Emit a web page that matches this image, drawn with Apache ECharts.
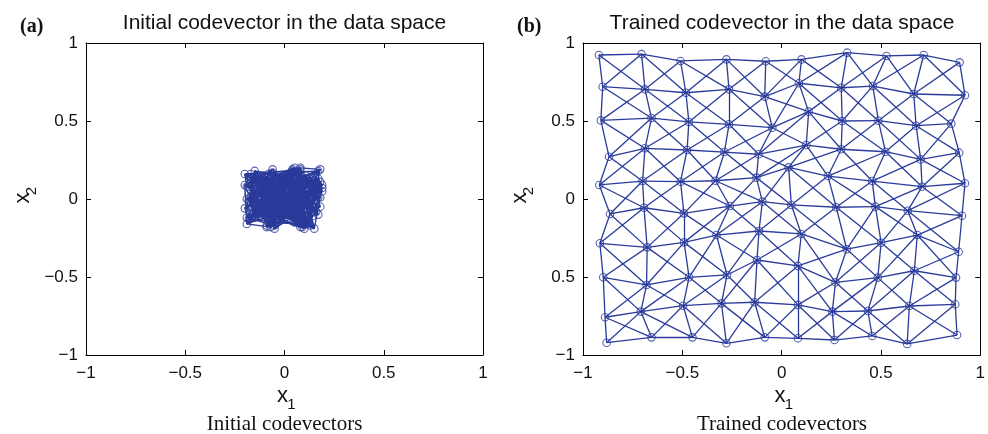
<!DOCTYPE html>
<html><head><meta charset="utf-8">
<script src="https://cdn.jsdelivr.net/npm/echarts@6/dist/echarts.min.js"></script>
<style>html,body{margin:0;padding:0;background:#fff}#c{width:988px;height:434px}</style>
</head><body><div id="c"></div>
<script>
// Tick labels as printed on each panel's y axis (panel b prints "0.5" at -0.5)
var yTickLabelsA = {'-1': '\u22121', '-0.5': '\u22120.5', '0': '0', '0.5': '0.5', '1': '1'};
var yTickLabelsB = {'-1': '\u22121', '-0.5': '0.5', '0': '0', '0.5': '0.5', '1': '1'};
// Initial codevectors (10x10 lattice, row-major), read approximately from the blob
var initX = [
 -0.13, 0.05, -0.18, 0.17, -0.02, 0.11, -0.09, 0.19, -0.15, 0.08,
 0.14, -0.20, 0.03, -0.07, 0.18, -0.12, 0.09, -0.04, 0.16, -0.17,
 -0.06, 0.12, -0.19, 0.01, -0.11, 0.15, -0.01, 0.07, -0.16, 0.18,
 0.10, -0.14, 0.17, -0.08, 0.04, -0.19, 0.13, -0.03, 0.06, -0.10,
 -0.17, 0.02, -0.05, 0.19, -0.13, 0.08, -0.18, 0.15, -0.09, 0.11,
 0.06, -0.10, 0.14, -0.16, 0.09, -0.02, 0.18, -0.20, 0.03, -0.07,
 -0.19, 0.16, -0.08, 0.12, -0.15, 0.05, -0.11, 0.10, -0.04, 0.17,
 0.13, -0.05, 0.19, -0.18, 0.00, -0.12, 0.07, -0.14, 0.16, -0.01,
 -0.09, 0.18, -0.16, 0.04, -0.07, 0.14, -0.20, 0.11, -0.13, 0.02,
 0.15, -0.17, 0.08, -0.11, 0.17, -0.06, 0.12, -0.19, 0.05, -0.15];
var initY = [
 0.12, -0.15, 0.03, 0.18, -0.08, 0.15, -0.17, 0.07, -0.04, 0.19,
 -0.11, 0.09, 0.17, -0.18, 0.01, -0.06, 0.14, -0.13, 0.05, 0.16,
 0.19, -0.02, -0.16, 0.10, 0.04, -0.19, 0.08, 0.17, -0.10, -0.05,
 -0.14, 0.06, 0.13, -0.09, 0.18, 0.00, -0.17, 0.11, -0.12, 0.15,
 0.02, 0.16, -0.19, 0.09, -0.07, 0.20, -0.13, 0.12, 0.06, -0.16,
 0.17, -0.10, -0.03, 0.14, -0.18, 0.08, 0.19, -0.06, 0.11, -0.15,
 -0.12, 0.07, 0.16, -0.14, 0.18, -0.09, 0.03, -0.19, 0.13, 0.01,
 0.10, -0.17, 0.05, -0.01, 0.15, -0.11, 0.18, 0.04, -0.08, 0.14,
 -0.18, 0.11, -0.07, 0.19, -0.13, 0.02, 0.16, -0.16, 0.09, -0.04,
 0.06, 0.14, -0.18, 0.12, -0.10, 0.17, -0.15, 0.08, 0.20, -0.12];
// Trained codevectors (10x10 lattice, row-major: top row first)
var trainedX = [
 -0.920, -0.705, -0.509, -0.278, -0.080, 0.100, 0.330, 0.528, 0.715, 0.896,
 -0.901, -0.688, -0.482, -0.265, -0.085, 0.087, 0.300, 0.459, 0.665, 0.923,
 -0.910, -0.655, -0.467, -0.265, -0.047, 0.136, 0.305, 0.487, 0.677, 0.854,
 -0.869, -0.688, -0.476, -0.288, -0.116, 0.124, 0.300, 0.523, 0.700, 0.894,
 -0.918, -0.700, -0.509, -0.333, -0.127, 0.035, 0.233, 0.456, 0.707, 0.923,
 -0.864, -0.693, -0.492, -0.261, -0.097, 0.049, 0.275, 0.472, 0.635, 0.908,
 -0.915, -0.677, -0.491, -0.328, -0.114, 0.099, 0.328, 0.501, 0.683, 0.891,
 -0.898, -0.680, -0.466, -0.275, -0.124, 0.082, 0.271, 0.484, 0.668, 0.878,
 -0.889, -0.709, -0.496, -0.303, -0.136, 0.082, 0.255, 0.434, 0.643, 0.874,
 -0.881, -0.655, -0.449, -0.278, -0.085, 0.082, 0.266, 0.456, 0.632, 0.883];
var trainedY = [
 0.923, 0.929, 0.885, 0.895, 0.883, 0.895, 0.938, 0.917, 0.923, 0.876,
 0.720, 0.703, 0.681, 0.703, 0.656, 0.742, 0.713, 0.724, 0.673, 0.665,
 0.504, 0.519, 0.494, 0.479, 0.457, 0.560, 0.500, 0.502, 0.470, 0.483,
 0.271, 0.325, 0.314, 0.301, 0.287, 0.346, 0.319, 0.303, 0.254, 0.297,
 0.090, 0.115, 0.111, 0.117, 0.137, 0.203, 0.147, 0.115, 0.079, 0.101,
 -0.096, -0.056, -0.092, -0.045, -0.017, -0.038, -0.053, -0.049, -0.075, -0.107,
 -0.284, -0.310, -0.278, -0.231, -0.205, -0.224, -0.322, -0.280, -0.231, -0.338,
 -0.502, -0.551, -0.502, -0.487, -0.391, -0.429, -0.534, -0.504, -0.460, -0.504,
 -0.758, -0.722, -0.684, -0.669, -0.662, -0.679, -0.722, -0.718, -0.686, -0.675,
 -0.921, -0.887, -0.887, -0.925, -0.887, -0.893, -0.904, -0.878, -0.929, -0.872];
var gridRows = 10, gridCols = 10;
var panelTitles = ['Initial codevector in the data space', 'Trained codevector in the data space'];
var panelTags = ['(a)', '(b)'];
var captions = ['Initial codevectors', 'Trained codevectors'];

var BLUE = '#2a3b9b';
function pts(xs, ys) { return xs.map(function (x, i) { return [x, ys[i]]; }); }
function mesh(p) {
  var segs = [];
  function at(r, c) { return p[r * gridCols + c]; }
  for (var r = 0; r < gridRows; r++) for (var c = 0; c < gridCols; c++) {
    if (c + 1 < gridCols) segs.push({coords: [at(r, c), at(r, c + 1)]});
    if (r + 1 < gridRows) segs.push({coords: [at(r, c), at(r + 1, c)]});
    if (r + 1 < gridRows && c + 1 < gridCols) {
      segs.push({coords: [at(r, c), at(r + 1, c + 1)]});
      segs.push({coords: [at(r, c + 1), at(r + 1, c)]});
    }
  }
  return segs;
}
var panels = [pts(initX, initY), pts(trainedX, trainedY)];
var grids = [{left: 86, top: 43, width: 397, height: 312}, {left: 583, top: 43, width: 398, height: 312}];
var yLabelMaps = [yTickLabelsA, yTickLabelsB];

function fmt(v) { return String(v).replace('-', '\u2212'); }
var xAxes = [], yAxes = [], series = [];
grids.forEach(function (g, i) {
  var base = {type: 'value', gridIndex: i, min: -1, max: 1, interval: 0.5,
    splitLine: {show: false},
    axisLine: {show: true, onZero: false, lineStyle: {color: '#000', width: 1}},
    axisTick: {show: true, inside: true, length: 5, lineStyle: {color: '#000'}}};
  xAxes.push(Object.assign({}, base, {position: 'bottom',
    axisLabel: {fontSize: 17, color: '#111', margin: 10, fontFamily: 'Liberation Sans', formatter: fmt}}));
  xAxes.push(Object.assign({}, base, {position: 'top', axisLabel: {show: false}}));
  var lm = yLabelMaps[i];
  yAxes.push(Object.assign({}, base, {position: 'left',
    axisLabel: {fontSize: 17, color: '#111', margin: 8, fontFamily: 'Liberation Sans',
      formatter: function (v) { var k = String(v); return lm[k] !== undefined ? lm[k] : fmt(v); }}}));
  yAxes.push(Object.assign({}, base, {position: 'right', axisLabel: {show: false}}));
  series.push({type: 'lines', coordinateSystem: 'cartesian2d', xAxisIndex: 2 * i, yAxisIndex: 2 * i,
    polyline: false, silent: true, lineStyle: {color: BLUE, width: 1.3, opacity: 1}, data: mesh(panels[i])});
  series.push({type: 'scatter', xAxisIndex: 2 * i, yAxisIndex: 2 * i, symbol: 'circle', symbolSize: 7.5,
    silent: true, itemStyle: {color: 'rgba(0,0,0,0)', borderColor: BLUE, borderWidth: 1.1}, data: panels[i]});
});

var graphics = [];
grids.forEach(function (g, i) {
  var cx = g.left + g.width / 2;
  graphics.push({type: 'text', x: g.left - 66, y: 27, style: {text: panelTags[i], font: 'bold 20px "Liberation Serif"', fill: '#111', verticalAlign: 'middle'}});
  graphics.push({type: 'text', x: cx, y: 23, style: {text: panelTitles[i], font: '21px "Liberation Sans"', fill: '#111', align: 'center', verticalAlign: 'middle'}});
  graphics.push({type: 'text', x: cx - 2, y: 396, style: {text: 'x', font: '22px "Liberation Sans"', fill: '#111', align: 'center', verticalAlign: 'middle'}});
  graphics.push({type: 'text', x: cx + 7, y: 405, style: {text: '1', font: '15px "Liberation Sans"', fill: '#111', align: 'center', verticalAlign: 'middle'}});
  graphics.push({type: 'text', x: cx, y: 424, style: {text: captions[i], font: '21px "Liberation Serif"', fill: '#111', align: 'center', verticalAlign: 'middle'}});
  graphics.push({type: 'text', x: g.left - 63, y: 198, rotation: Math.PI / 2, style: {text: 'x', font: '22px "Liberation Sans"', fill: '#111', align: 'center', verticalAlign: 'middle'}});
  graphics.push({type: 'text', x: g.left - 54, y: 191, rotation: Math.PI / 2, style: {text: '2', font: '15px "Liberation Sans"', fill: '#111', align: 'center', verticalAlign: 'middle'}});
});

var chart = echarts.init(document.getElementById('c'), null, {renderer: 'canvas'});
chart.setOption({animation: false, backgroundColor: '#fff', grid: grids, xAxis: xAxes, yAxis: yAxes, series: series, graphic: graphics});
</script></body></html>
